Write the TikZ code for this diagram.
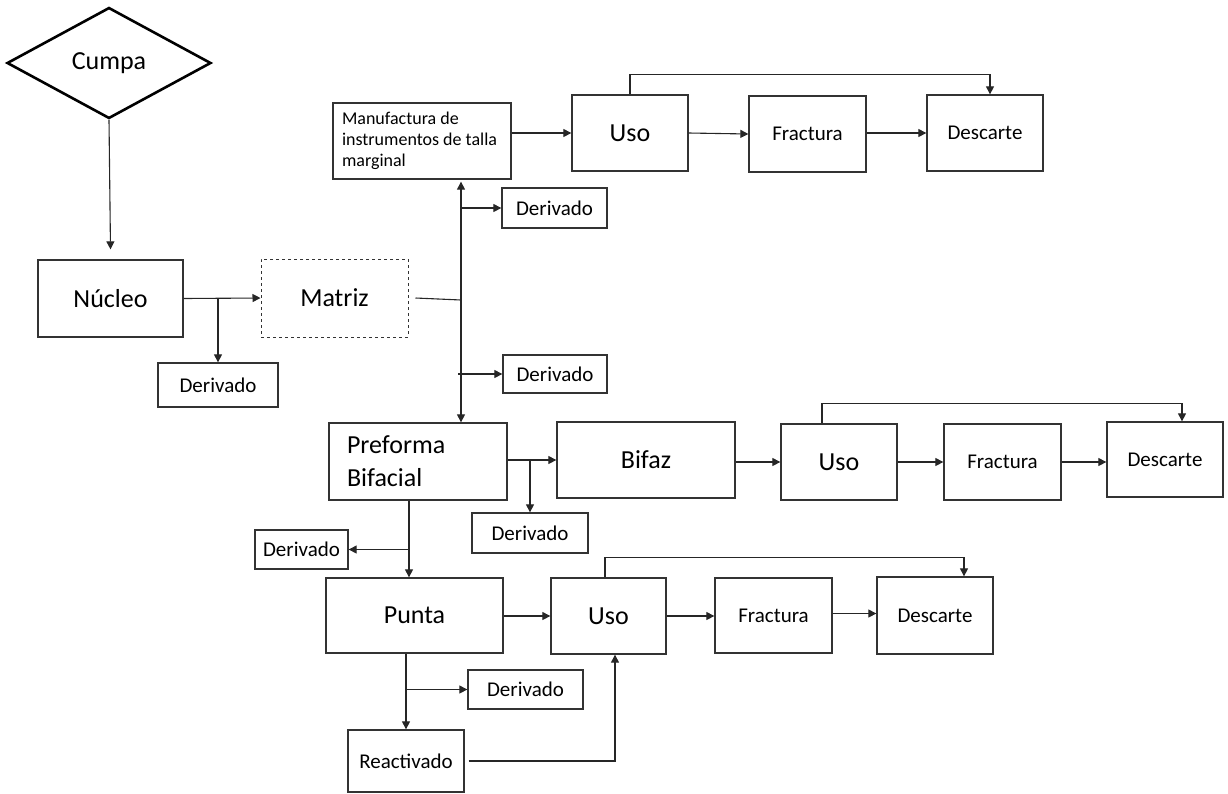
\documentclass[tikz,border=0pt]{standalone}
\usepackage{fontspec}
\setmainfont{Carlito}
\usepackage{tikz}
\usetikzlibrary{arrows.meta, shapes.geometric}

\tikzset{
  box/.style={draw=black!80, line width=1.3pt, minimum width=116pt,
    minimum height=76pt, inner sep=0pt, font=\fontsize{21}{25}\selectfont},
  bigbox/.style={box, font=\fontsize{26}{33}\selectfont},
  derbox/.style={box, minimum height=40pt},
  ln/.style={line width=1.1pt, draw=black!85},
  arr/.style={ln, -{Triangle[length=8pt,width=8pt]}}
}

\begin{document}
\begin{tikzpicture}[x=1pt, y=-1pt]
    \useasboundingbox (0,0) rectangle (1228,793);

    % Raw material and core
    \node[diamond, draw, line width=2.6pt, minimum width=204pt, minimum height=111pt,
      inner sep=0pt, font=\fontsize{26}{31}\selectfont] (cumpa) at (109,63) {Cumpa};
    \node[bigbox, minimum width=145pt, minimum height=77pt] (nucleo) at (110.5,298.5) {Núcleo};
    \node[bigbox, dashed, line width=1pt, minimum width=147pt, minimum height=78pt] (matriz) at (334.5,298) {Matriz};
    \node[derbox, minimum width=120pt, minimum height=44pt] (der1) at (218,385) {Derivado};

    \draw[arr] (cumpa.south) -- ([yshift=10pt]nucleo.north);
    \draw[arr] (nucleo.east) -- (matriz.west);
    \draw[arr] (der1.north |- nucleo.east) -- (der1.north);

    % Trunk out of the matrix
    \coordinate (trunk) at (461,300);
    \draw[ln] ([xshift=7pt]matriz.east) -- (trunk);

    % Marginal retouch branch (top row)
    \node[box, minimum width=178pt, align=flush left, text width=160pt,
      font=\fontsize{18}{21}\selectfont] (manuf) at (422,141)
      {Manufactura de\\instrumentos de talla\\marginal};
    \node[bigbox] (uso1) at (630,133) {Uso};
    \node[box, minimum width=117pt] (frac1) at (807.5,134) {Fractura};
    \node[box] (desc1) at (985,133) {Descarte};
    \node[derbox, minimum width=105pt] (der2) at (554.5,208) {Derivado};
    \node[derbox, minimum width=104pt, minimum height=38pt] (der3) at (555,374) {Derivado};

    \draw[arr] (trunk) -- ([yshift=-2pt]trunk |- manuf.south);
    \draw[arr] (trunk |- der2.west) -- (der2.west);
    \draw[arr] ([xshift=-3pt]trunk |- der3.west) -- (der3.west);
    \draw[arr] (manuf.east |- uso1.west) -- (uso1.west);
    \draw[arr] (uso1.east) -- (frac1.west);
    \draw[arr] (frac1.east |- desc1.west) -- (desc1.west);
    \draw[arr] (uso1.north) -- ++(0,-20) -| ([xshift=5pt]desc1.north);

    % Bifacial branch (middle row)
    \node[bigbox, minimum width=178pt, minimum height=77pt, align=flush left,
      text width=142pt] (prefo) at (418,461.5) {Preforma\\Bifacial};
    \node[bigbox, minimum width=178pt] (bifaz) at (646,460) {Bifaz};
    \node[bigbox] (uso2) at (839,462) {Uso};
    \node[box, minimum width=117pt] (frac2) at (1002.5,462) {Fractura};
    \node[box, minimum height=75pt] (desc2) at (1165,459.5) {Descarte};
    \node[derbox] (der4) at (530,533) {Derivado};
    \node[derbox, minimum width=93pt, minimum height=39pt] (der5) at (301.5,549.5) {Derivado};

    \draw[arr] (trunk) -- (trunk |- prefo.north);
    \draw[arr] (prefo.east |- bifaz.west) -- (bifaz.west);
    \draw[arr] (der4.north |- bifaz.west) -- (der4.north);
    \draw[arr] (bifaz.east |- uso2.west) -- (uso2.west);
    \draw[arr] (uso2.east) -- (frac2.west);
    \draw[arr] (frac2.east) -- (desc2.west |- frac2.east);
    \draw[arr] ([xshift=-17pt]uso2.north) -- ++(0,-20) -| ([xshift=17pt]desc2.north);

    % Points (bottom row)
    \node[bigbox, minimum width=177pt, minimum height=75pt] (punta) at (414.5,615.5) {Punta};
    \node[bigbox, minimum width=115pt] (uso3) at (608.5,616) {Uso};
    \node[box, minimum width=117pt, minimum height=75pt] (frac3) at (773.5,615.5) {Fractura};
    \node[box, minimum height=77pt] (desc3) at (935,615.5) {Descarte};
    \node[derbox, minimum width=115pt, minimum height=39pt] (der6) at (525.5,689.5) {Derivado};
    \node[box, minimum height=62pt] (react) at (406,761) {Reactivado};

    \draw[arr] ([xshift=-9pt]prefo.south) -- ([xshift=-9pt]prefo.south |- punta.north);
    \draw[arr] ([xshift=-9pt]prefo.south |- der5.east) -- (der5.east);
    \draw[arr] (punta.east |- uso3.west) -- (uso3.west);
    \draw[arr] (uso3.east) -- (frac3.west |- uso3.east);
    \draw[arr] ([yshift=2pt]frac3.east) -- ([yshift=2pt]desc3.west);
    \draw[arr] ([xshift=-3.5pt]uso3.north) -- ++(0,-20) -| ([xshift=29pt]desc3.north);
    \draw[arr] (react.north |- punta.south) -- (react.north);
    \draw[arr] (react.north |- der6.west) -- (der6.west);
    \draw[arr] ([xshift=4pt]react.east) -| ([xshift=6.5pt]uso3.south);

\end{tikzpicture}
\end{document}
